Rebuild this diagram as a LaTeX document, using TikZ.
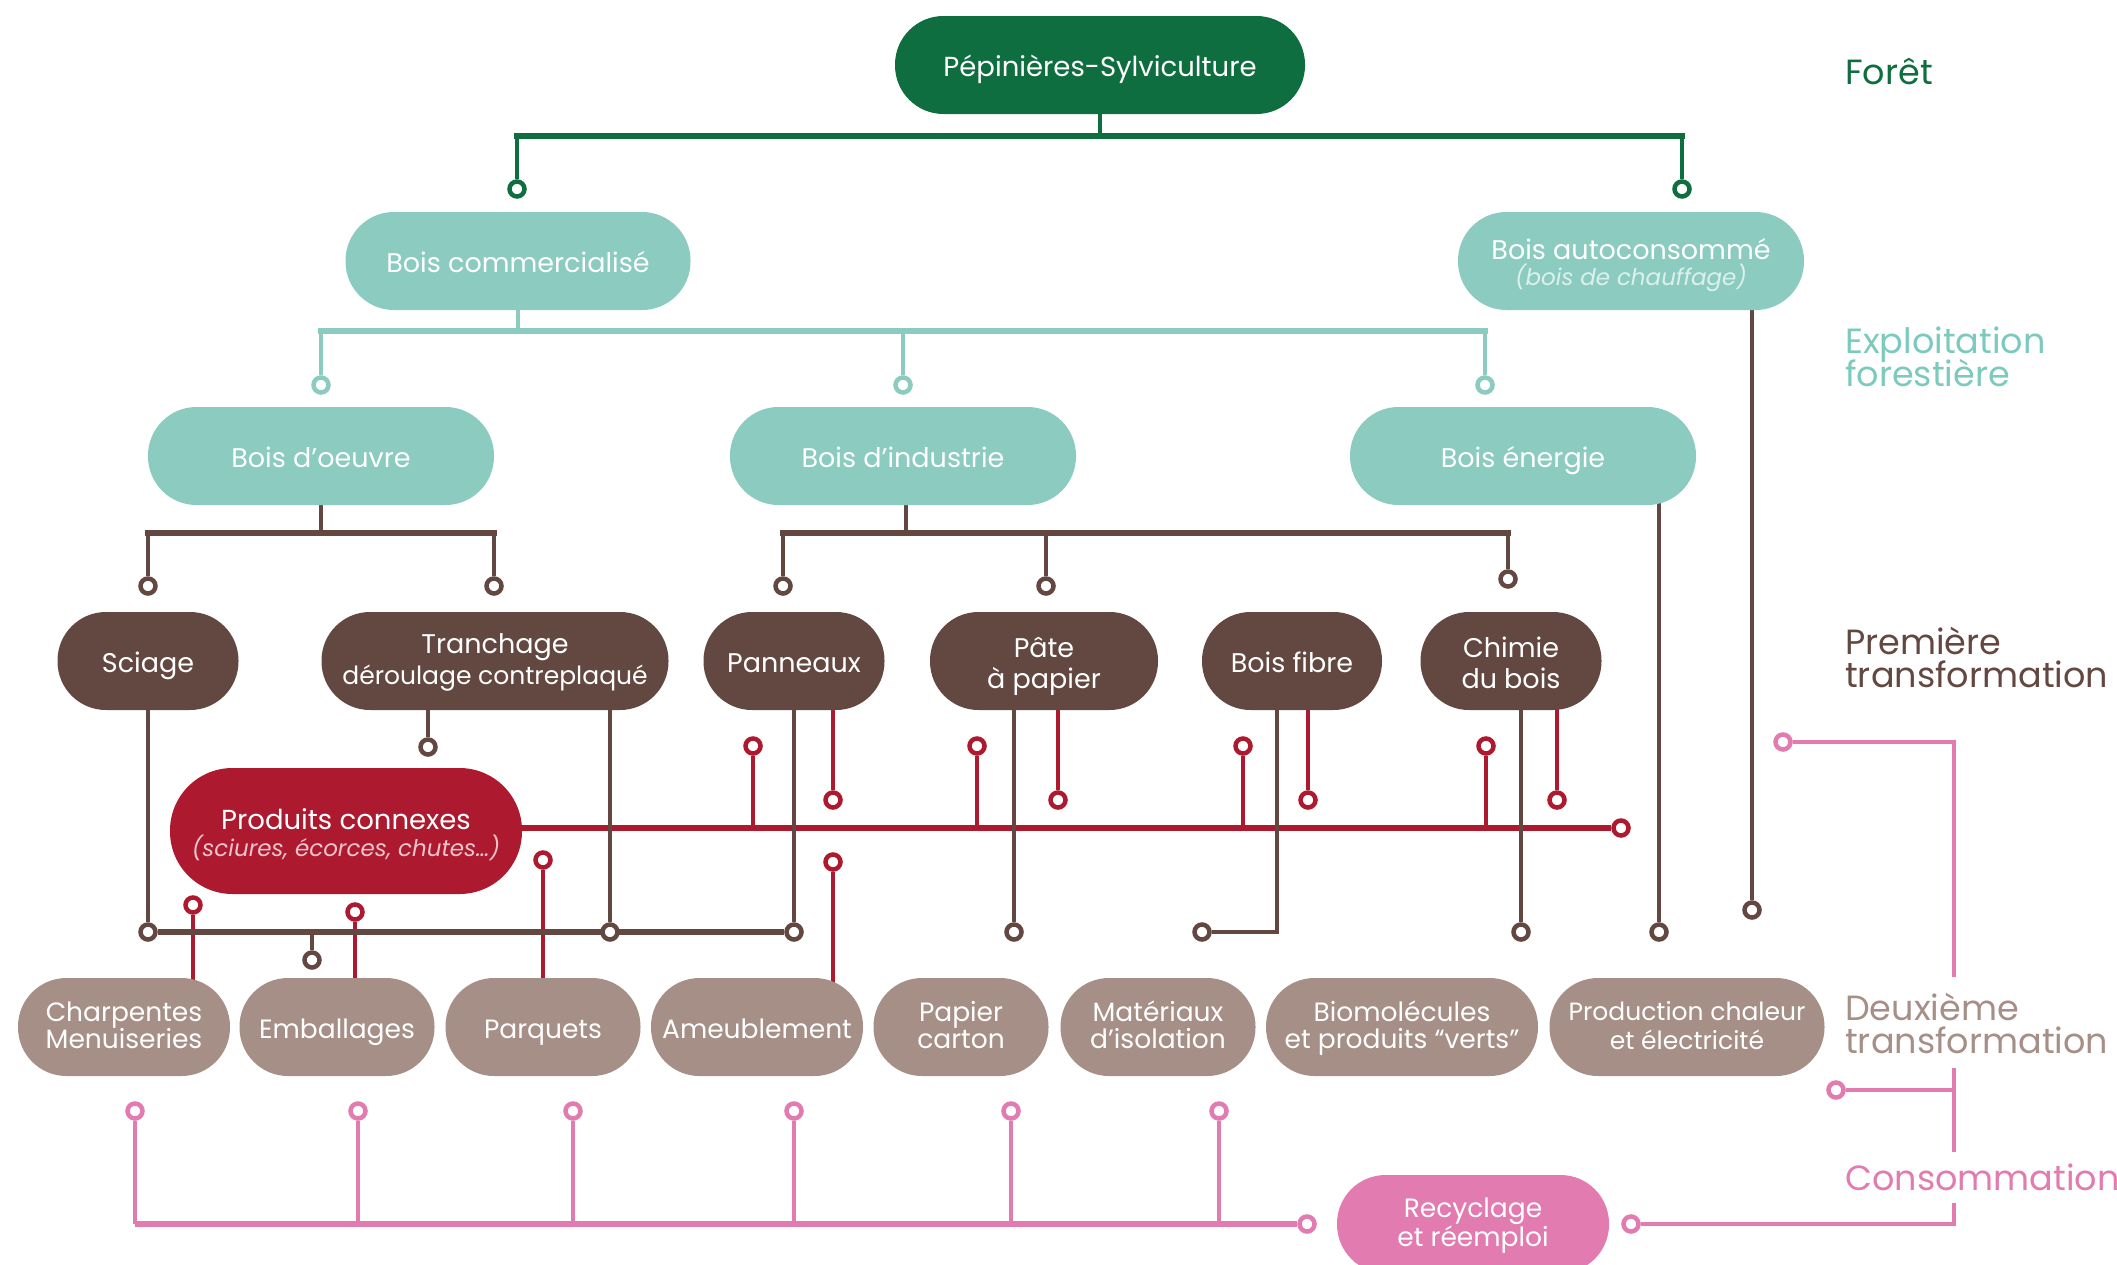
\documentclass[tikz,border=0pt]{standalone}
\usepackage{fontspec}
\setmainfont{Poppins}
\usetikzlibrary{backgrounds}
\definecolor{cgreen}{HTML}{0F6E40}
\definecolor{cteal}{HTML}{8BCBC0}
\definecolor{ctealtxt}{HTML}{7CCABD}
\definecolor{cbrown}{HTML}{634841}
\definecolor{cred}{HTML}{AD1A30}
\definecolor{clbrown}{HTML}{A68F87}
\definecolor{cpink}{HTML}{E17BB0}
\definecolor{autoit}{HTML}{DDF0EC}
\definecolor{redit}{HTML}{EFC4CB}
\newcommand\nodefs{\fontsize{27}{31}\selectfont}
\newcommand\botfs{\fontsize{26.5}{27.5}\selectfont}
\newcommand\narrowfs{\fontsize{25}{29}\selectfont}
\newcommand\smallfs{\fontsize{23}{28}\selectfont}
\newcommand\labfs{\fontsize{35}{35}\selectfont}
\newcommand\tstr{\rule{0pt}{31pt}}
\newcommand\tstrb{\rule{0pt}{24pt}}
\newcommand\bstr{\rule[-8pt]{0pt}{0pt}}
\tikzset{
  lw/.style={line width=4.5},
  barw/.style={line width=6, line cap=rect},
  ring/.style={circle, draw=#1, fill=white, line width=4.5, minimum size=15, inner sep=0},
  pill/.style={fill=#1, text=white, align=center, inner sep=0, font=\nodefs},
  hrow/.style={minimum height=98, rounded corners=48.5},
  lab/.style={anchor=base west, inner sep=0, font=\labfs},
}
\begin{document}
\begin{tikzpicture}[x=1pt,y=-1pt]
\useasboundingbox (0,0) rectangle (2117,1264);

% ---- level nodes
\node[pill=cgreen,hrow,minimum width=410,font=\fontsize{27.5}{31}\selectfont] (top) at (1100,65) {\tstr Pépinières-Sylviculture\bstr};
\node[pill=cteal,hrow,minimum width=345] (comm) at (518,261) {\tstr Bois commercialisé\bstr};
\node[pill=cteal,hrow,minimum width=346] (auto) at (1631,261) {\tstr Bois autoconsommé\\[-5pt]{\smallfs\itshape\color{autoit}(bois de chauffage)}\bstr};
\node[pill=cteal,hrow,minimum width=346] (oeuvre) at (321,456) {\tstr Bois d’oeuvre\bstr};
\node[pill=cteal,hrow,minimum width=346] (indus) at (903,456) {\tstr Bois d’industrie\bstr};
\node[pill=cteal,hrow,minimum width=346] (energie) at (1523,456) {\tstr Bois énergie\bstr};

\node[pill=cbrown,hrow,minimum width=181] (sciage) at (148,661) {\tstr Sciage\bstr};
\node[pill=cbrown,hrow,minimum width=347] (tranch) at (495,661) {\tstrb Tranchage\\{\narrowfs déroulage contreplaqué}\bstr};
\node[pill=cbrown,hrow,minimum width=181] (pann) at (794,661) {\tstr Panneaux\bstr};
\node[pill=cbrown,hrow,minimum width=228] (pate) at (1044,661) {\tstr Pâte\\à papier\bstr};
\node[pill=cbrown,hrow,minimum width=180] (fibre) at (1292,661) {\tstr Bois fibre\bstr};
\node[pill=cbrown,hrow,minimum width=181] (chimie) at (1511,661) {\tstr Chimie\\du bois\bstr};

\node[pill=cred,minimum height=126,rounded corners=62.5,minimum width=352,font=\fontsize{27.5}{31}\selectfont] (connexes) at (346,831) {\tstr Produits connexes\\[-4pt]{\smallfs\itshape\color{redit}(sciures, écorces, chutes…)}\bstr};

\node[pill=clbrown,hrow,minimum width=212,font=\botfs] (charp) at (124,1027) {\tstrb Charpentes\\Menuiseries\bstr};
\node[pill=clbrown,hrow,minimum width=195,font=\botfs] (emb) at (337,1027) {\tstr Emballages\bstr};
\node[pill=clbrown,hrow,minimum width=195,font=\botfs] (parq) at (543,1027) {\tstr Parquets\bstr};
\node[pill=clbrown,hrow,minimum width=212,font=\botfs] (ameub) at (757,1027) {\tstr Ameublement\bstr};
\node[pill=clbrown,hrow,minimum width=175,font=\botfs] (papier) at (961,1027) {\tstrb Papier\\carton\bstr};
\node[pill=clbrown,hrow,minimum width=195,font=\botfs] (mater) at (1158,1027) {\tstrb Matériaux\\d’isolation\bstr};
\node[pill=clbrown,hrow,minimum width=272,font=\botfs] (bio) at (1402,1027) {\tstrb Biomolécules\\et produits “verts”\bstr};
\node[pill=clbrown,hrow,minimum width=275,font=\narrowfs] (prod) at (1687,1027) {\tstrb Production chaleur\\et électricité\bstr};

\node[pill=cpink,hrow,minimum width=272,font=\botfs] (recy) at (1473,1224) {\tstrb Recyclage\\et réemploi\bstr};

% ---- stage labels
\node[lab,text=cgreen] (lforet) at (1845,84) {Forêt};
\node[lab,text=ctealtxt] (lexp1) at (1845,353) {Exploitation};
\node[lab,text=ctealtxt] (lexp2) at (1845,386) {forestière};
\node[lab,text=cbrown] (lpre1) at (1845,654) {Première};
\node[lab,text=cbrown] (lpre2) at (1845,687) {transformation};
\node[lab,text=clbrown] (ldeu1) at (1845,1020) {Deuxième};
\node[lab,text=clbrown] (ldeu2) at (1845,1053) {transformation};
\node[lab,text=cpink] (lcons) at (1845,1190) {Consommation};

% ---- rings
\node[ring=cgreen] (rg1) at (517,189) {};
\node[ring=cgreen] (rg2) at (1682,189) {};
\node[ring=cteal] (rt1) at (321,385) {};
\node[ring=cteal] (rt2) at (903,385) {};
\node[ring=cteal] (rt3) at (1485,385) {};
\node[ring=cbrown] (rb1) at (148,586) {};
\node[ring=cbrown] (rb2) at (494,586) {};
\node[ring=cbrown] (rb3) at (783,586) {};
\node[ring=cbrown] (rb4) at (1046,586) {};
\node[ring=cbrown] (rb5) at (1508,579) {};
\node[ring=cbrown] (rb6) at (428,747) {};
\node[ring=cbrown] (rs1) at (148,932) {};
\node[ring=cbrown] (rs2) at (610,932) {};
\node[ring=cbrown] (rs3) at (794,932) {};
\node[ring=cbrown] (rs4) at (312,960) {};
\node[ring=cbrown] (rs5) at (1014,932) {};
\node[ring=cbrown] (rs6) at (1202,932) {};
\node[ring=cbrown] (rs7) at (1521,932) {};
\node[ring=cbrown] (rs8) at (1659,932) {};
\node[ring=cbrown] (rs9) at (1752,910) {};
\node[ring=cred] (ru1) at (753,746) {};
\node[ring=cred] (ru2) at (977,746) {};
\node[ring=cred] (ru3) at (1243,746) {};
\node[ring=cred] (ru4) at (1486,746) {};
\node[ring=cred] (rd1) at (833,800) {};
\node[ring=cred] (rd2) at (1058,800) {};
\node[ring=cred] (rd3) at (1308,800) {};
\node[ring=cred] (rd4) at (1557,800) {};
\node[ring=cred] (rend) at (1621,828) {};
\node[ring=cred] (rl1) at (193,905) {};
\node[ring=cred] (rl2) at (355,912) {};
\node[ring=cred] (rl3) at (543,860) {};
\node[ring=cred] (rl4) at (833,862) {};
\node[ring=cpink] (rp1) at (135,1111) {};
\node[ring=cpink] (rp2) at (358,1111) {};
\node[ring=cpink] (rp3) at (573,1111) {};
\node[ring=cpink] (rp4) at (794,1111) {};
\node[ring=cpink] (rp5) at (1011,1111) {};
\node[ring=cpink] (rp6) at (1219,1111) {};
\node[ring=cpink] (rp7) at (1307,1224) {};
\node[ring=cpink] (rp8) at (1631,1224) {};
\node[ring=cpink] (rp9) at (1836,1090) {};
\node[ring=cpink] (rp10) at (1783,742) {};

% ---- connectors
\begin{scope}[on background layer]
% green
\coordinate (gb) at (1100,136);
\draw[cgreen,lw] (top) -- (gb);
\draw[cgreen,lw] (rg1) -- (rg1 |- gb) (rg2) -- (rg2 |- gb);
\draw[cgreen,barw] (rg1 |- gb) -- (rg2 |- gb);
% teal
\coordinate (tb) at (518,331);
\draw[cteal,lw] (comm) -- (tb);
\draw[cteal,lw] (rt1) -- (rt1 |- tb) (rt2) -- (rt2 |- tb) (rt3) -- (rt3 |- tb);
\draw[cteal,barw] (rt1 |- tb) -- (rt3 |- tb);
% brown from level 3
\coordinate (bb1) at (321,533);
\coordinate (bb2) at (906,533);
\draw[cbrown,lw] (oeuvre) -- (bb1);
\draw[cbrown,lw] (rb1) -- (rb1 |- bb1) (rb2) -- (rb2 |- bb1);
\draw[cbrown,barw] (rb1 |- bb1) -- (rb2 |- bb1);
\draw[cbrown,lw] (bb2 |- indus.center) -- (bb2);
\draw[cbrown,lw] (rb3) -- (rb3 |- bb2) (rb4) -- (rb4 |- bb2) (rb5) -- (rb5 |- bb2);
\draw[cbrown,barw] (rb3 |- bb2) -- (rb5 |- bb2);
% red
\draw[cred,barw,line cap=butt] (connexes.east |- rend) -- (rend);
\draw[cred,lw] (ru1) -- (ru1 |- rend) (ru2) -- (ru2 |- rend) (ru3) -- (ru3 |- rend) (ru4) -- (ru4 |- rend);
\draw[cred,lw] (rd1 |- pann.center) -- (rd1);
\draw[cred,lw] (rd2 |- pate.center) -- (rd2);
\draw[cred,lw] (rd3 |- fibre.center) -- (rd3);
\draw[cred,lw] (rd4 |- chimie.center) -- (rd4);
\draw[cred,lw] (rl1) -- (rl1 |- charp.center);
\draw[cred,lw] (rl2) -- (rl2 |- emb.center);
\draw[cred,lw] (rl3) -- (rl3 |- parq.center);
\draw[cred,lw] (rl4) -- (rl4 |- ameub.center);
% brown to level 5
\draw[cbrown,lw] (sciage) -- (rs1);
\draw[cbrown,barw,line cap=butt] (rs1) -- (rs3);
\draw[cbrown,lw] (rs2 |- tranch.center) -- (rs2);
\draw[cbrown,lw] (rb6 |- tranch.center) -- (rb6);
\draw[cbrown,lw] (rs3 |- pann.center) -- (rs3);
\draw[cbrown,lw] (rs4) -- (rs4 |- rs1);
\draw[cbrown,lw] (rs5 |- pate.center) -- (rs5);
\coordinate (fb) at (1277,932);
\draw[cbrown,lw] (fb |- fibre.center) -- (fb) -- (rs6);
\draw[cbrown,lw] (rs7 |- chimie.center) -- (rs7);
\draw[cbrown,lw] (rs8 |- energie.center) -- (rs8);
\draw[cbrown,lw] (rs9 |- auto.center) -- (rs9);
% pink
\draw[cpink,lw] (rp1) -- (rp1 |- rp7) (rp2) -- (rp2 |- rp7) (rp3) -- (rp3 |- rp7)
  (rp4) -- (rp4 |- rp7) (rp5) -- (rp5 |- rp7) (rp6) -- (rp6 |- rp7);
\draw[cpink,line width=5.5] (rp1 |- rp7) -- (rp7);
\coordinate (pv1) at (1954,742);
\coordinate (pv2) at (1954,977);
\coordinate (pv3) at (1954,1068);
\coordinate (pv4) at (1954,1152);
\coordinate (pv5) at (1954,1090);
\coordinate (pv6) at (1954,1203);
\coordinate (pv7) at (1954,1224);
\draw[cpink,lw] (rp10) -- (pv1) -- (pv2);
\draw[cpink,lw] (pv3) -- (pv4);
\draw[cpink,lw] (pv5) -- (rp9);
\draw[cpink,lw] (rp8) -- (pv7) -- (pv6);
\end{scope}
\end{tikzpicture}
\end{document}
